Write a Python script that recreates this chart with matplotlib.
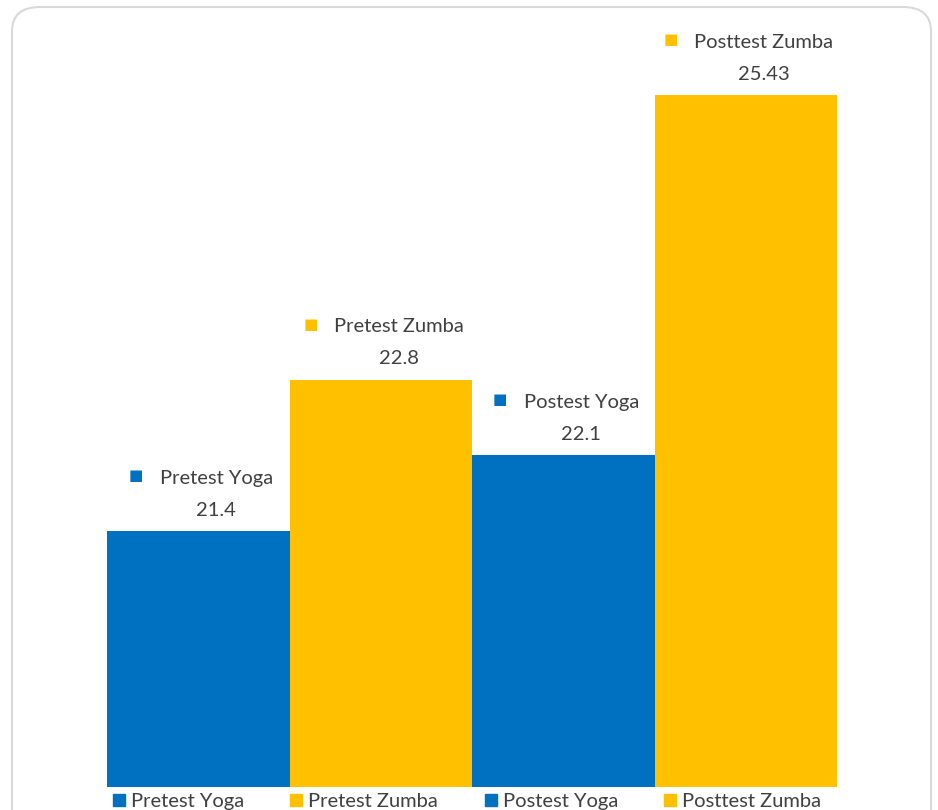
import matplotlib.pyplot as plt
import matplotlib.patches as mpatches
from matplotlib.lines import Line2D

groups = ["Pretest Yoga", "Pretest Zumba", "Postest Yoga", "Posttest Zumba"]
values = [21.4, 22.8, 22.1, 25.43]
value_labels = ["21.4", "22.8", "22.1", "25.43"]
blue = "#0070C0"
gold = "#FFC000"
colors = [blue, gold, blue, gold]

plt.rcParams['font.family'] = ['Lato', 'DejaVu Sans']
txt_col = "#404040"

W, H = 938, 810
fig = plt.figure(figsize=(W / 100, H / 100), dpi=100)

# rounded outer frame
frame = mpatches.FancyBboxPatch((12 / W, -40 / H), 919 / W, 843 / H,
                                boxstyle="round,pad=0,rounding_size=0.03",
                                transform=fig.transFigure, facecolor="none",
                                edgecolor="#d9d9d9", linewidth=1.5, zorder=-1)
fig.patches.append(frame)

ax = fig.add_axes([107 / W, 23 / H, 730 / W, 777 / H])
ax.set_facecolor("none")
x = list(range(len(groups)))
ax.bar(x, values, width=1.0, color=colors, bottom=0)
ax.set_xlim(-0.5, 3.5)
ax.set_ylim(19.03, 26.22)
ax.axis("off")

fig.canvas.draw()
r = fig.canvas.get_renderer()
for i, (g, v, lab, c) in enumerate(zip(groups, values, value_labels, colors)):
    name = ax.annotate(g, (i, v), xytext=(13, 38), textcoords="offset points",
                       ha="center", va="center", fontsize=14.5, color=txt_col,
                       annotation_clip=False)
    ax.annotate(lab, (i, v), xytext=(13, 15), textcoords="offset points",
                ha="center", va="center", fontsize=14.5, color=txt_col,
                annotation_clip=False)
    bb = name.get_window_extent(r)
    wpt = bb.width * 72 / fig.dpi
    ax.annotate("\u25A0", (i, v), xytext=(13 - wpt / 2 - 17, 40),
                textcoords="offset points", ha="center", va="center",
                fontsize=11, color=c, family="DejaVu Sans",
                annotation_clip=False)

handles = [Line2D([], [], marker="s", linestyle="none", markersize=8,
                  markerfacecolor=c, markeredgecolor=c) for c in colors]
fig.legend(handles, groups, loc="center", bbox_to_anchor=(466 / W, 1 - 801 / H),
           ncol=4, frameon=False, fontsize=14.5, labelcolor=txt_col,
           handletextpad=0.2, columnspacing=2.2, handlelength=0.8)

fig.savefig("out.png", dpi=100)
